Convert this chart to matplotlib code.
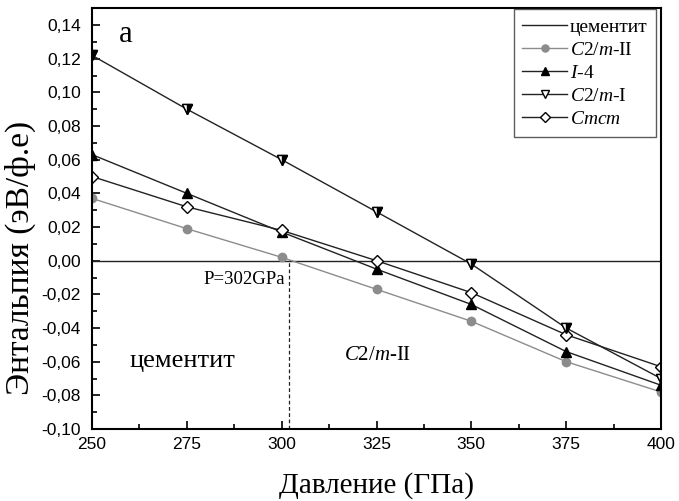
import numpy as np
import matplotlib
matplotlib.use('Agg')
from matplotlib import pyplot as plt
from matplotlib.ticker import MultipleLocator, FuncFormatter

# pressure points (GPa) and enthalpy relative to cementite (eV/f.u.)
pressure = [250, 275, 300, 325, 350, 375, 400]
c2m_II = [0.037, 0.019, 0.002, -0.017, -0.036, -0.060, -0.078]
i4 = [0.063, 0.040, 0.017, -0.005, -0.026, -0.054, -0.074]
c2m_I = [0.122, 0.090, 0.060, 0.029, -0.002, -0.040, -0.070]
cmcm = [0.050, 0.032, 0.018, 0.000, -0.019, -0.044, -0.063]
cementite = [0.0] * len(pressure)
p_trans = 302

plt.rcParams['font.family'] = ['Liberation Serif', 'DejaVu Serif']
plt.rcParams['mathtext.fontset'] = 'custom'
plt.rcParams['mathtext.it'] = 'Liberation Serif:italic'
plt.rcParams['mathtext.rm'] = 'Liberation Serif'

fig = plt.figure(figsize=(6.79, 5.01), dpi=100)
ax = fig.add_axes([0.1355, 0.1437, 0.838, 0.840])

dark = '#222222'
ax.plot(pressure, cementite, color=dark, lw=1, label='цементит')
ax.plot(pressure, c2m_II, color='#8c8c8c', lw=1, marker='o', ms=6,
        mfc='#8c8c8c', mec='#8c8c8c', label='$C2/m$-II')
ax.plot(pressure, i4, color=dark, lw=1, marker='^', ms=7,
        mfc='black', mec='black', label='$I$-4')
ax.plot(pressure, c2m_I, color=dark, lw=1, marker='v', ms=7,
        mfc='white', mec='black', label='$C2/m$-I')
ax.plot(pressure, cmcm, color=dark, lw=1, marker='D', ms=6,
        mfc='white', mec='black', label='$Cmcm$')

# half-filled look for C2/m-I triangles
ax.plot(pressure, c2m_I, ls='none', marker='v', ms=7, fillstyle='right',
        mfc='black', mfcalt='white', mec='black')

ax.plot([p_trans, p_trans], [-0.10, 0.0], color=dark, lw=0.9, ls=(0, (3, 2)))

ax.set_xlim(250, 400)
ax.set_ylim(-0.10, 0.15)
ax.xaxis.set_major_locator(MultipleLocator(25))
ax.xaxis.set_minor_locator(MultipleLocator(12.5))
ax.set_yticks(np.arange(-0.10, 0.141, 0.02))
ax.yaxis.set_minor_locator(MultipleLocator(0.01))
ax.yaxis.set_major_formatter(FuncFormatter(lambda v, p: f'{v:.2f}'.replace('.', ',').replace('-0,00', '0,00')))

for lab in ax.get_xticklabels() + ax.get_yticklabels():
    lab.set_family('Liberation Sans')
    lab.set_fontsize(12.5)

ax.tick_params(which='both', direction='in', top=False, right=False)
ax.tick_params(which='major', length=6, width=1.2)
ax.tick_params(which='minor', length=3.5, width=1.2)
ax.tick_params(axis='x', pad=6)
ax.tick_params(axis='y', pad=8)
for s in ax.spines.values():
    s.set_linewidth(1.5)

ax.set_xlabel('Давление (ГПа)', fontsize=21, labelpad=14)
ax.set_ylabel('Энтальпия (эВ/ф.е)', fontsize=24)
ax.yaxis.set_label_coords(-0.098, 0.406)

ax.text(257, 0.130, 'a', fontsize=22)
ax.text(301, -0.0113, 'P=302GPa', fontsize=13.5, ha='right', va='center')
ax.text(260, -0.0595, 'цементит', fontsize=19, va='center')
ax.text(316.5, -0.0565, '$C2/m$-II', fontsize=15, va='center')

leg = ax.legend(loc='upper right', fontsize=14, frameon=True, fancybox=False,
                edgecolor='#333333', handlelength=2.3, borderpad=0.45,
                labelspacing=0.28, handletextpad=0.15, markerscale=0.85,
                bbox_to_anchor=(0.992, 0.997), borderaxespad=0.0)
leg.get_frame().set_linewidth(1.0)

fig.savefig('out.png', dpi=100)
